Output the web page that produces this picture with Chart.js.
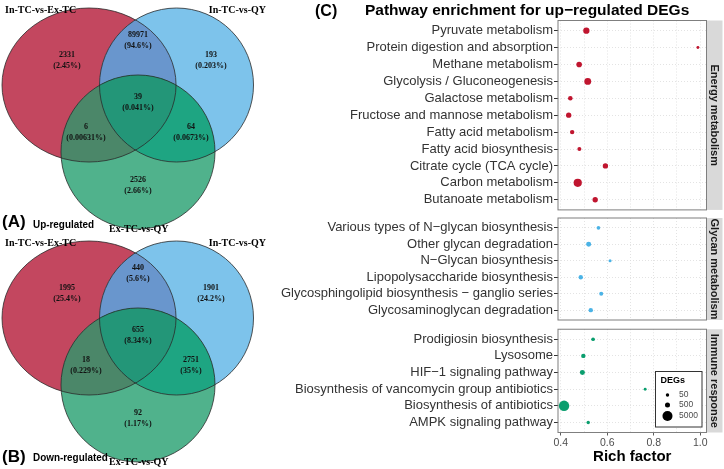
<!DOCTYPE html>
<html>
<head>
<meta charset="utf-8">
<script src="https://cdn.jsdelivr.net/npm/chart.js@4.4.1/dist/chart.umd.min.js"></script>
<style>
  body { margin: 0; width: 724px; height: 469px; position: relative; overflow: hidden; background: #fff; font-family: "Liberation Sans", Arial, sans-serif; }
  canvas { position: absolute; }
  .lbl { position: absolute; white-space: nowrap; color: #000; }
  .sub { transform: scaleX(0.9); transform-origin: left center; }
</style>
</head>
<body>
<canvas id="vennUp" width="270" height="236" style="left:0;top:0;width:270px;height:236px"></canvas>
<canvas id="vennDown" width="270" height="236" style="left:0;top:233px;width:270px;height:236px"></canvas>
<canvas id="pEnergy" width="484" height="214" style="left:240px;top:0;width:484px;height:214px"></canvas>
<canvas id="pGlycan" width="484" height="110" style="left:240px;top:214px;width:484px;height:110px"></canvas>
<canvas id="pImmune" width="484" height="145" style="left:240px;top:324px;width:484px;height:145px"></canvas>

<div class="lbl" style="left:2px;top:212px;line-height:20px;font-size:17px;font-weight:bold">(A)</div>
<div class="lbl sub" style="left:33px;top:214px;line-height:20px;font-size:11px;font-weight:bold">Up-regulated</div>
<div class="lbl" style="left:2px;top:447px;line-height:20px;font-size:17px;font-weight:bold">(B)</div>
<div class="lbl sub" style="left:33px;top:447px;line-height:20px;font-size:11px;font-weight:bold">Down-regulated</div>
<div class="lbl" style="left:315px;top:1px;line-height:20px;font-size:16px;font-weight:bold">(C)</div>
<div class="lbl" style="left:365px;top:0px;line-height:20px;font-size:15.5px;font-weight:bold">Pathway enrichment for up−regulated DEGs</div>

<script>
// Venn counts, region order: A only, A&B, B only, A&B&C, A&C, B&C, C only
const vennSets = ['In-TC-vs-Ex-TC', 'In-TC-vs-QY', 'Ex-TC-vs-QY'];
const upCounts = [2331, 89971, 193, 39, 6, 64, 2526];
const downCounts = [1995, 440, 1901, 655, 18, 2751, 92];

// Pathway enrichment
const energyPathways = ['Pyruvate metabolism', 'Protein digestion and absorption', 'Methane metabolism',
  'Glycolysis / Gluconeogenesis', 'Galactose metabolism', 'Fructose and mannose metabolism',
  'Fatty acid metabolism', 'Fatty acid biosynthesis', 'Citrate cycle (TCA cycle)',
  'Carbon metabolism', 'Butanoate metabolism'];
const energyRich = [0.51, 0.99, 0.479, 0.516, 0.441, 0.434, 0.449, 0.48, 0.592, 0.473, 0.548];
const energyDEGs = [1200, 3, 780, 1600, 330, 650, 270, 160, 650, 2800, 650];

const glycanPathways = ['Various types of N−glycan biosynthesis', 'Other glycan degradation',
  'N−Glycan biosynthesis', 'Lipopolysaccharide biosynthesis',
  'Glycosphingolipid biosynthesis − ganglio series', 'Glycosaminoglycan degradation'];
const glycanRich = [0.562, 0.52, 0.612, 0.486, 0.574, 0.529];
const glycanDEGs = [90, 480, 10, 270, 160, 270];

const immunePathways = ['Prodigiosin biosynthesis', 'Lysosome', 'HIF−1 signaling pathway',
  'Biosynthesis of vancomycin group antibiotics', 'Biosynthesis of antibiotics', 'AMPK signaling pathway'];
const immuneRich = [0.539, 0.497, 0.493, 0.763, 0.414, 0.518];
const immuneDEGs = [90, 270, 480, 6, 5600, 50];

const sizeLegend = [50, 500, 5000];
const xTicks = [0.4, 0.5, 0.6, 0.7, 0.8, 0.9, 1.0];
const xLabelled = [0.4, 0.6, 0.8, 1.0];

// ---- layout / style (not data) ----
const vennCircles = [
  { cx: -0.636, cy: 0.29, rx: 1.13, ry: 1.0 },
  { cx: 0.5, cy: 0.29, rx: 1.0, ry: 1.0 },
  { cx: 0, cy: -0.58, rx: 1.0, ry: 1.0 }
];
const regionAnchors = [[-0.922, 0.608], [0, 0.868], [0.948, 0.608], [0, 0.062], [-0.675, -0.321], [0.688, -0.321], [0, -1.016]];
const setAnchors = [[-1.727, 1.264, 'left'], [1.662, 1.264, 'right'], [0.01, -1.58, 'center']];
const vennColors = { a: '#c3475f', b: '#7dc3eb', c: '#50b28c', ab: '#6996cd', ac: '#4b8769', bc: '#1ea582', abc: '#239678' };

const degRadius = d => 1.35 + 0.052 * Math.sqrt(d);
const pct = (v, total) => Number((v / total * 100).toPrecision(3)).toString() + '%';

const vennPlugin = {
  id: 'venn',
  beforeDatasetsDraw(chart) {
    const { ctx, scales: { x, y } } = chart;
    const shape = c => {
      ctx.beginPath();
      ctx.ellipse(x.getPixelForValue(c.cx), y.getPixelForValue(c.cy),
        x.getPixelForValue(c.cx + c.rx) - x.getPixelForValue(c.cx),
        y.getPixelForValue(c.cy) - y.getPixelForValue(c.cy + c.ry), 0, 0, Math.PI * 2);
    };
    const [A, B, C] = vennCircles;
    const fillIn = (clips, c, color) => {
      ctx.save();
      clips.forEach(k => { shape(k); ctx.clip(); });
      shape(c); ctx.fillStyle = color; ctx.fill();
      ctx.restore();
    };
    fillIn([], A, vennColors.a);
    fillIn([], B, vennColors.b);
    fillIn([A], B, vennColors.ab);
    fillIn([], C, vennColors.c);
    fillIn([A], C, vennColors.ac);
    fillIn([B], C, vennColors.bc);
    fillIn([A, B], C, vennColors.abc);
    ctx.save();
    ctx.strokeStyle = '#2b2b2b';
    ctx.lineWidth = 0.8;
    vennCircles.forEach(c => { shape(c); ctx.stroke(); });
    ctx.restore();
  },
  afterDatasetsDraw(chart) {
    const { ctx, scales: { x, y } } = chart;
    const counts = chart.data.datasets[0].data.map(p => p.n);
    const total = counts.reduce((s, v) => s + v, 0);
    ctx.save();
    ctx.fillStyle = '#111';
    ctx.textAlign = 'center';
    ctx.textBaseline = 'middle';
    ctx.font = 'bold 8px "Liberation Serif"';
    chart.data.datasets[0].data.forEach(p => {
      const px = x.getPixelForValue(p.x), py = y.getPixelForValue(p.y);
      ctx.fillText(String(p.n), px, py - 5.5);
      ctx.fillText('(' + pct(p.n, total) + ')', px, py + 5.5);
    });
    ctx.font = 'bold 10px "Liberation Serif"';
    ctx.fillStyle = '#000';
    vennSets.forEach((s, i) => {
      const [ax, ay, al] = setAnchors[i];
      ctx.textAlign = al;
      ctx.fillText(s, x.getPixelForValue(ax), y.getPixelForValue(ay));
    });
    ctx.restore();
  }
};

function makeVenn(id, counts) {
  new Chart(document.getElementById(id), {
    type: 'scatter',
    data: { datasets: [{ data: counts.map((n, i) => ({ x: regionAnchors[i][0], y: regionAnchors[i][1], n })), pointRadius: 0 }] },
    options: {
      responsive: false, animation: false,
      layout: { padding: 0 },
      plugins: { legend: { display: false }, tooltip: { enabled: false } },
      scales: {
        x: { type: 'linear', min: -1.792, max: 1.714, display: false },
        y: { type: 'linear', min: -1.671, max: 1.394, display: false }
      }
    },
    plugins: [vennPlugin]
  });
}
makeVenn('vennUp', upCounts);
makeVenn('vennDown', downCounts);

// panel frame, facet strip and size legend
const panelFrame = {
  id: 'panelFrame',
  afterDraw(chart, args, opts) {
    const { ctx, chartArea: { left, top, right, bottom } } = chart;
    ctx.save();
    ctx.fillStyle = '#d9d9d9';
    ctx.fillRect(right, top, 16, bottom - top);
    ctx.strokeStyle = '#7f7f7f';
    ctx.lineWidth = 1;
    ctx.strokeRect(left, top, right - left, bottom - top);
    ctx.save();
    ctx.translate(right + 8, (top + bottom) / 2);
    ctx.rotate(Math.PI / 2);
    ctx.font = 'bold 11px "Liberation Sans"';
    ctx.fillStyle = '#1a1a1a';
    ctx.textAlign = 'center';
    ctx.textBaseline = 'middle';
    ctx.fillText(opts.text, 0, 0);
    ctx.restore();
    if (opts.legend) {
      const bx = right - 51, by = bottom - 61, bw = 46.5, bh = 55.5;
      ctx.fillStyle = '#fff';
      ctx.fillRect(bx, by, bw, bh);
      ctx.strokeStyle = '#333';
      ctx.strokeRect(bx, by, bw, bh);
      ctx.fillStyle = '#000';
      ctx.font = 'bold 9px "Liberation Sans"';
      ctx.textBaseline = 'middle';
      ctx.fillText('DEGs', bx + 5, by + 9.5);
      const rows = [23.5, 33.5, 44.5];
      ctx.font = '8.5px "Liberation Sans"';
      sizeLegend.forEach((v, i) => {
        ctx.fillStyle = '#000';
        ctx.beginPath();
        ctx.arc(bx + 12, by + rows[i], degRadius(v), 0, Math.PI * 2);
        ctx.fill();
        ctx.fillStyle = '#4d4d4d';
        ctx.fillText(String(v), bx + 23.5, by + rows[i]);
      });
    }
    ctx.restore();
  }
};

function makePanel(id, names, rich, degs, color, strip, pad, isBottom) {
  new Chart(document.getElementById(id), {
    type: 'scatter',
    data: {
      datasets: [{
        data: names.map((n, i) => ({ x: rich[i], y: i })),
        backgroundColor: color,
        borderWidth: 0,
        pointRadius: c => degRadius(degs[c.dataIndex])
      }]
    },
    options: {
      responsive: false, animation: false,
      layout: { padding: { left: 0, right: 17.5, top: pad[0], bottom: pad[1] } },
      plugins: { legend: { display: false }, tooltip: { enabled: false }, panelFrame: { text: strip, legend: isBottom } },
      scales: {
        x: {
          type: 'linear', min: 0.388, max: 1.027,
          afterBuildTicks: s => { s.ticks = xTicks.map(v => ({ value: v })); },
          afterFit: s => { s.height = isBottom ? 36.5 : 0; s.paddingLeft = 0; s.paddingRight = 0; },
          grid: {
            color: '#dcdcdc', lineWidth: 0.8, drawTicks: isBottom, tickLength: 3,
            tickColor: c => (c.tick && xLabelled.includes(Math.round(c.tick.value * 10) / 10)) ? '#333' : 'rgba(0,0,0,0)'
          },
          border: { display: false, dash: [1, 2] },
          ticks: {
            display: isBottom, autoSkip: false, maxRotation: 0, padding: 1,
            color: '#4d4d4d', font: { size: 10.5, family: 'Liberation Sans' },
            callback: v => xLabelled.includes(Math.round(v * 10) / 10) ? v.toFixed(1) : ''
          },
          title: {
            display: isBottom, text: 'Rich factor', color: '#000',
            font: { size: 15, weight: 'bold', family: 'Liberation Sans' },
            padding: { top: 0, bottom: 3 }
          }
        },
        y: {
          type: 'linear', reverse: true, min: -0.6, max: names.length - 0.4,
          afterBuildTicks: s => { s.ticks = names.map((n, i) => ({ value: i })); },
          afterFit: s => { s.width = 318; s.paddingTop = 0; s.paddingBottom = 0; },
          grid: { color: '#dcdcdc', lineWidth: 0.8, tickLength: 4, tickColor: '#333', tickWidth: 1 },
          border: { display: false, dash: [1, 2] },
          ticks: {
            padding: 1, color: '#333', autoSkip: false,
            font: { size: 13, family: 'Liberation Sans' },
            callback: v => names[v]
          }
        }
      }
    },
    plugins: [panelFrame]
  });
}

makePanel('pEnergy', energyPathways, energyRich, energyDEGs, '#c0152f', 'Energy metabolism', [20.5, 3], false);
makePanel('pGlycan', glycanPathways, glycanRich, glycanDEGs, '#4bb3e6', 'Glycan metabolism', [2.5, 1.5], false);
makePanel('pImmune', immunePathways, immuneRich, immuneDEGs, '#0a9e6e', 'Immune response', [3, 0], true);
</script>
</body>
</html>
